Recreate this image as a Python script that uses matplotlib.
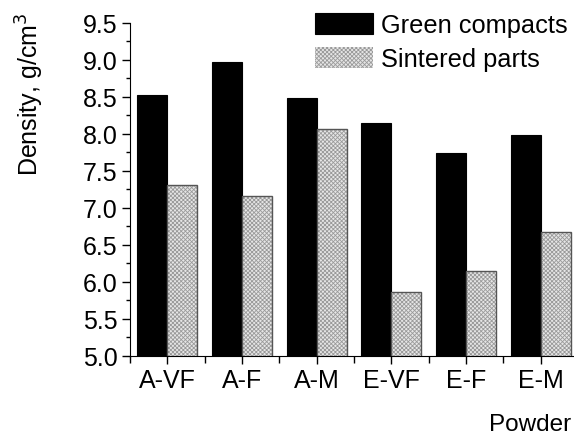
import numpy as np
from matplotlib import pyplot as plt

plt.rcParams['font.family'] = ['Liberation Sans', 'DejaVu Sans']
plt.rcParams['hatch.linewidth'] = 0.6

powders = ["A-VF", "A-F", "A-M", "E-VF", "E-F", "E-M"]
green = [8.52, 8.97, 8.49, 8.14, 7.74, 7.98]
sintered = [7.31, 7.16, 8.06, 5.86, 6.15, 6.67]

fig = plt.figure(figsize=(5.74, 4.35), dpi=100)
ax = fig.add_axes([0.2265, 0.18, 0.7805, 0.765])

x = np.arange(len(powders))
w = 0.4
ax.bar(x - w / 2, green, w, color="black", edgecolor="black", linewidth=0.8, label="Green compacts")
ax.bar(x + w / 2, sintered, w, color="#e6e6e6", edgecolor="#9a9a9a", hatch="xxxxxxxx", linewidth=0,
       label="Sintered parts")
# outline drawn separately so it can be darker than the hatch
ax.bar(x + w / 2, sintered, w, fill=False, edgecolor="#555555", linewidth=1.0)

ax.set_xlim(-0.5, 5.5)
ax.set_ylim(5.0, 9.5)
ax.set_yticks(np.arange(5.0, 9.51, 0.5))
ax.set_yticklabels(["%.1f" % v for v in np.arange(5.0, 9.51, 0.5)])
ax.set_yticks(np.arange(5.25, 9.5, 0.5), minor=True)
ax.set_xticks(x)
ax.set_xticklabels(powders)
ax.set_xticks(np.arange(-0.5, 5.6, 1.0), minor=True)

ax.spines["top"].set_visible(False)
ax.spines["right"].set_visible(False)
ax.tick_params(which="major", direction="out", length=6, width=1, labelsize=18, pad=3)
ax.tick_params(which="minor", direction="out", length=3, width=1)
ax.tick_params(axis="x", which="minor", length=5)

fig.text(30 / 574, 1 - 94 / 435, "Density, g/cm$^3$", rotation=90, ha="center", va="center", fontsize=18)
fig.text(489 / 574, 1 - 425 / 435, "Powder", ha="left", va="center", fontsize=17.5)

ax.legend(loc="upper left", bbox_to_anchor=(315 / 574, 1 - 14 / 435), bbox_transform=fig.transFigure,
          frameon=False, fontsize=18.3, handlelength=2.3, handleheight=0.9, handletextpad=0.3,
          labelspacing=0.38, borderpad=0, borderaxespad=0)

fig.savefig("out.png", dpi=100)
